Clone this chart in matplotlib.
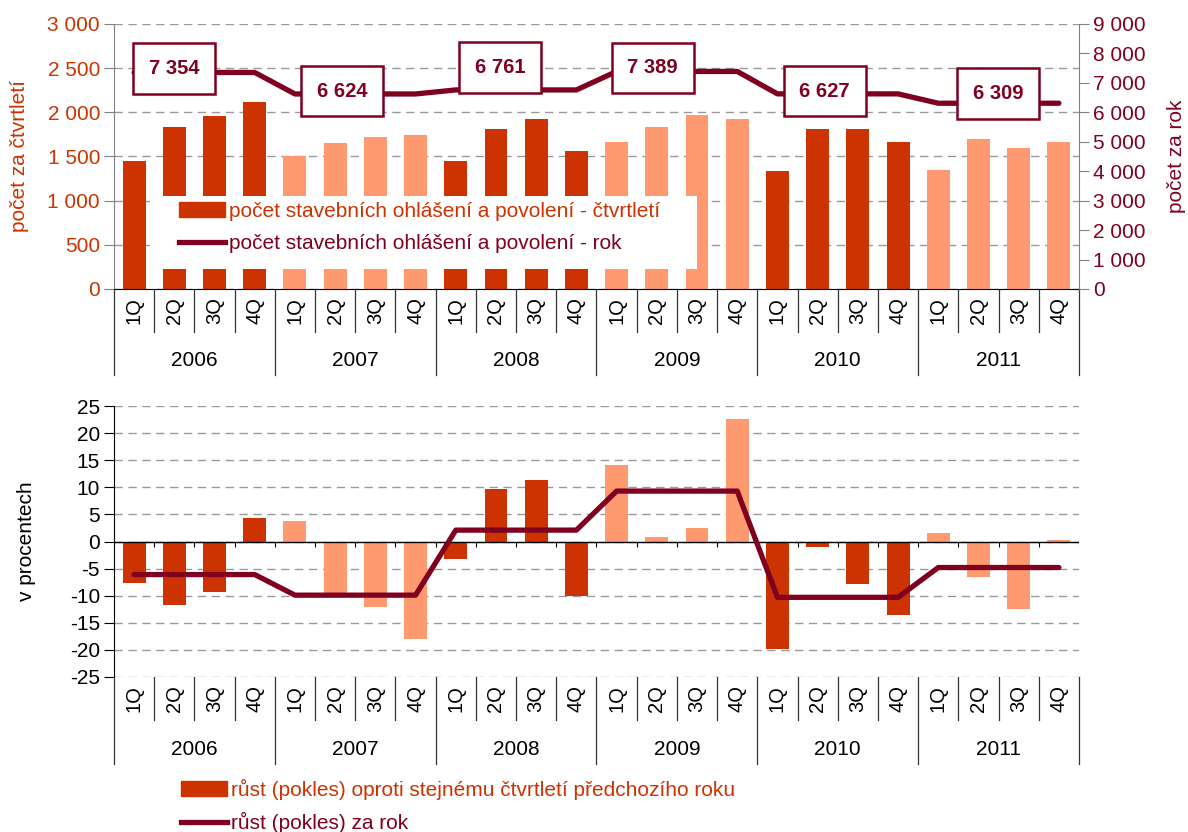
import matplotlib
matplotlib.use("Agg")
import matplotlib.pyplot as plt
from matplotlib.lines import Line2D
from matplotlib.patches import Patch, Rectangle
from matplotlib.ticker import FuncFormatter, MultipleLocator

plt.rcParams["font.family"] = ["Liberation Sans", "DejaVu Sans"]
plt.rcParams["axes.unicode_minus"] = False

YEARS = ["2006", "2007", "2008", "2009", "2010", "2011"]
QUARTERS = ["1Q", "2Q", "3Q", "4Q"]

# building notifications and permits per quarter
q_counts = [1450, 1834, 1958, 2117,
            1506, 1653, 1721, 1743,
            1450, 1815, 1930, 1566,
            1664, 1834, 1970, 1924,
            1336, 1811, 1811, 1664,
            1347, 1698, 1596, 1664]
year_totals = [7354, 6624, 6761, 7389, 6627, 6309]

# growth (decline) in %
q_growth = [-7.7, -11.8, -9.4, 4.3,
            3.7, -9.6, -12.0, -17.9,
            -3.3, 9.6, 11.3, -10.1,
            14.1, 0.9, 2.4, 22.6,
            -19.9, -1.0, -7.9, -13.6,
            1.5, -6.6, -12.5, 0.2]
year_growth = [-6.1, -9.9, 2.1, 9.3, -10.3, -4.8]

# label box nudges (points) for the yearly totals
LABEL_OFFSETS = [(0, 3), (5, 2), (3, 16), (-3, 2.5), (5, 2), (14, 7)]

DARK = "#CC3300"
LIGHT = "#FF9970"
WINE = "#800020"
GRID = "#9A9A9A"
SPINE = "#808080"
FS = 15

W, H = 1188, 832
L, R = 114, 1079


def thousands(v, _=None):
    return f"{int(round(v)):,}".replace(",", " ")


n = len(q_counts)
x = list(range(n))
bar_cols = [DARK if (i // 4) % 2 == 0 else LIGHT for i in x]
year_line = [v for v in year_totals for _ in QUARTERS]
growth_line = [v for v in year_growth for _ in QUARTERS]


def category_axis(ax, q_drop, y_drop, q_y, yr_y):
    tr = ax.get_xaxis_transform()
    for k in range(n + 1):
        depth = y_drop if k % 4 == 0 else q_drop
        ax.add_line(Line2D([k - 0.5, k - 0.5], [0, depth], transform=tr,
                           color="#333333", lw=0.9, clip_on=False))
    for i in x:
        ax.text(i, q_y, QUARTERS[i % 4], rotation=90, ha="center", va="center",
                transform=tr, fontsize=FS - 0.5)
    for j, yr in enumerate(YEARS):
        ax.text(4 * j + 1.5, yr_y, yr, ha="center", va="center",
                transform=tr, fontsize=FS)


def px_x(p, ax_l=L):
    return (p - ax_l) / (R - ax_l)


fig = plt.figure(figsize=(W / 100, H / 100), dpi=100)

# ---- top: counts
ax = fig.add_axes([L / W, 1 - 289 / H, (R - L) / W, 265 / H])
ax.bar(x, q_counts, 0.57, color=bar_cols, zorder=2)
ax.set_xlim(-0.5, n - 0.5)
ax.set_ylim(0, 3000)
ax.yaxis.set_major_locator(MultipleLocator(500))
ax.yaxis.set_major_formatter(FuncFormatter(thousands))
ax.set_axisbelow(True)
ax.grid(axis="y", ls=(0, (6, 4)), color=GRID, lw=1)
ax.tick_params(axis="y", labelcolor=DARK, labelsize=FS, length=7, pad=3, color=SPINE)
ax.tick_params(axis="x", length=0, labelbottom=False)
ax.spines[["top", "right"]].set_visible(False)
ax.spines["left"].set_color(SPINE)
ax.set_ylabel("počet za čtvrtletí", color=DARK, fontsize=FS, va="center")
ax.yaxis.set_label_coords(px_x(20), 0.5)
category_axis(ax, -0.162, -0.325, -0.08, -0.268)

ax2 = ax.twinx()
ax2.plot(x, year_line, color=WINE, lw=3.8, solid_capstyle="round")
ax2.set_ylim(0, 9000)
ax2.yaxis.set_major_locator(MultipleLocator(1000))
ax2.yaxis.set_major_formatter(FuncFormatter(thousands))
ax2.tick_params(axis="y", labelcolor=WINE, labelsize=FS, length=7, pad=3, color=SPINE)
ax2.spines[["top", "left", "bottom"]].set_visible(False)
ax2.spines["right"].set_color(SPINE)
ax2.set_ylabel("počet za rok", color=WINE, fontsize=FS, va="center")
ax2.yaxis.set_label_coords(px_x(1177), 0.5)
for j, tot in enumerate(year_totals):
    ax2.annotate(thousands(tot), (4 * j + 1, tot), xytext=LABEL_OFFSETS[j],
                 textcoords="offset points", ha="center", va="center",
                 fontsize=14.5, fontweight="bold", color=WINE, zorder=6,
                 bbox=dict(boxstyle="square,pad=0.78", fc="white", ec=WINE, lw=1.8))

# white panel behind the top legend
ax2.add_patch(Rectangle((150 / W, 1 - 269 / H), (697 - 150) / W, 73 / H,
                        transform=fig.transFigure, fc="white", ec="none",
                        zorder=4, clip_on=False))
leg = ax2.legend([Patch(color=DARK), Line2D([], [], color=WINE, lw=3.8)],
                 ["počet stavebních ohlášení a povolení - čtvrtletí",
                  "počet stavebních ohlášení a povolení - rok"],
                 loc="upper left", bbox_to_anchor=(179 / W, 1 - 202 / H),
                 bbox_transform=fig.transFigure, fontsize=FS,
                 labelcolor=[DARK, WINE], handlelength=2.2, handletextpad=0.2,
                 labelspacing=0.62, borderpad=0, borderaxespad=0, frameon=False)
leg.set_zorder(5)

# ---- bottom: growth
bx = fig.add_axes([L / W, 1 - 677 / H, (R - L) / W, 271 / H])
bx.bar(x, q_growth, 0.57, color=bar_cols, zorder=2)
bx.plot(x, growth_line, color=WINE, lw=3.8, solid_capstyle="round", zorder=4)
bx.axhline(0, color="black", lw=1, zorder=3)
bx.vlines([k - 0.5 for k in range(1, n + 1)], 0, -1.0, color="black", lw=0.8, zorder=3)
bx.set_xlim(-0.5, n - 0.5)
bx.set_ylim(-25, 25)
bx.yaxis.set_major_locator(MultipleLocator(5))
bx.set_axisbelow(True)
bx.grid(axis="y", ls=(0, (6, 4)), color=GRID, lw=1)
bx.tick_params(axis="y", labelsize=FS, length=7, pad=3, color="black")
bx.tick_params(axis="x", length=0, labelbottom=False)
bx.spines[["top", "right", "bottom"]].set_visible(False)
bx.set_ylabel("v procentech", fontsize=FS, va="center")
bx.yaxis.set_label_coords(px_x(27), 0.5)
category_axis(bx, -0.159, -0.322, -0.081, -0.267)

fig.legend([Patch(color=DARK), Line2D([], [], color=WINE, lw=3.8)],
           ["růst (pokles) oproti stejnému čtvrtletí předchozího roku",
            "růst (pokles) za rok"],
           loc="upper left", bbox_to_anchor=(181 / W, 1 - 779 / H), fontsize=FS,
           labelcolor=[DARK, WINE], handlelength=2.2, handletextpad=0.2,
           labelspacing=0.58, borderpad=0, borderaxespad=0, frameon=False)

fig.savefig("out.png", dpi=100)
